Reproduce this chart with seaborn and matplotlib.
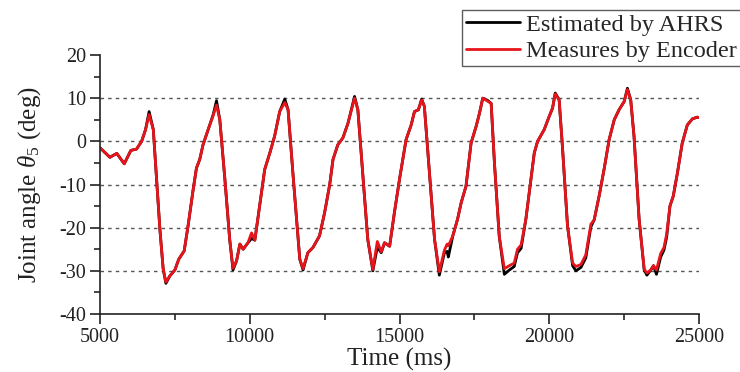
import numpy as np
import pandas as pd
import matplotlib
matplotlib.use("Agg")
import matplotlib.pyplot as plt
import seaborn as sns

time_ms = [5000, 5330, 5560, 5810, 6030, 6220, 6390, 6520, 6640, 6780,
           6890, 7000, 7110, 7200, 7330, 7500, 7630, 7810, 7940, 8110,
           8220, 8330, 8440, 8610, 8780, 8890, 9000, 9170, 9330, 9440,
           9560, 9670, 9780, 9940, 10060, 10170, 10330, 10500, 10670, 10830,
           11000, 11170, 11280, 11440, 11670, 11780, 11940, 12110, 12330, 12500,
           12670, 12780, 12940, 13110, 13280, 13500, 13610, 13780, 13940, 14110,
           14260, 14390, 14500, 14670, 14830, 15000, 15220, 15390, 15500, 15630,
           15740, 15830, 16000, 16170, 16330, 16500, 16590, 16630, 16780, 16940,
           17060, 17220, 17390, 17560, 17670, 17780, 17940, 18060, 18170, 18330,
           18500, 18670, 18830, 18940, 19060, 19220, 19390, 19500, 19610, 19830,
           20000, 20110, 20200, 20330, 20440, 20610, 20780, 20890, 21060, 21220,
           21390, 21500, 21670, 21830, 22000, 22170, 22330, 22500, 22610, 22720,
           22830, 23000, 23170, 23260, 23390, 23480, 23580, 23720, 23830, 23920,
           24030, 24140, 24280, 24440, 24610, 24780, 24940, 25000]

ahrs = [-1.5, -3.7, -2.8, -5.2, -2.1, -1.8, 0.0, 2.7, 6.9, 2.7,
        -8.8, -20.4, -29.6, -32.9, -31.2, -29.8, -27.3, -25.4, -19.6, -11.2,
        -6.2, -4.2, -0.8, 2.7, 6.2, 9.4, 5.0, -8.8, -22.7, -29.8,
        -27.7, -23.8, -25.0, -23.5, -22.5, -22.9, -15.0, -6.5, -2.7, 1.2,
        6.9, 9.8, 7.3, -7.3, -27.3, -29.8, -25.8, -24.6, -21.9, -16.5,
        -10.0, -4.2, -0.8, 0.8, 4.2, 10.4, 7.3, -8.1, -22.7, -30.0,
        -24.5, -25.8, -23.5, -24.3, -16.5, -8.8, 0.4, 3.8, 6.9, 7.3,
        9.8, 8.1, -7.3, -22.7, -31.0, -25.8, -25.5, -26.8, -21.9, -18.0,
        -14.2, -10.4, -0.4, 3.5, 6.5, 10.0, 9.5, 8.8, -5.0, -22.0,
        -30.8, -29.8, -29.0, -25.8, -24.8, -18.0, -8.8, -2.7, 0.0, 2.7,
        5.8, 7.7, 11.2, 9.6, -1.2, -19.6, -28.8, -30.0, -29.2, -27.0,
        -19.8, -18.2, -12.5, -6.5, 0.4, 5.0, 7.3, 9.2, 12.3, 9.6,
        1.2, -18.0, -29.8, -31.0, -29.8, -28.8, -30.8, -26.8, -25.2, -22.2,
        -15.0, -12.7, -7.3, -0.4, 3.8, 5.2, 5.6, 5.5]

encoder = [-1.5, -3.7, -2.8, -5.2, -2.1, -1.8, 0.0, 2.7, 6.2, 2.7,
           -8.8, -20.4, -29.6, -32.6, -31.2, -29.8, -27.3, -25.4, -19.6, -11.2,
           -6.2, -4.2, -0.8, 2.7, 6.0, 8.4, 5.0, -8.8, -22.7, -29.4,
           -27.7, -23.8, -25.0, -23.5, -21.2, -22.9, -15.0, -6.5, -2.7, 1.2,
           6.9, 9.0, 7.3, -7.3, -27.3, -29.5, -25.8, -24.6, -21.9, -16.5,
           -10.0, -4.2, -0.8, 0.8, 4.2, 10.0, 7.3, -8.1, -22.7, -29.7,
           -23.2, -25.6, -23.5, -24.3, -16.5, -8.8, 0.4, 3.8, 6.9, 7.3,
           9.6, 8.1, -7.3, -22.7, -30.2, -25.2, -23.8, -24.2, -21.9, -18.0,
           -14.2, -10.4, -0.4, 3.5, 6.5, 10.0, 9.3, 8.8, -5.0, -22.0,
           -29.5, -28.8, -28.2, -25.0, -24.0, -18.0, -8.8, -2.7, 0.0, 2.7,
           5.8, 7.7, 11.0, 9.6, -1.2, -19.6, -28.2, -29.0, -28.5, -26.3,
           -19.2, -18.2, -12.5, -6.5, 0.4, 5.0, 7.3, 9.2, 12.0, 9.6,
           1.2, -18.0, -29.6, -30.5, -29.8, -28.8, -29.8, -26.0, -24.6, -21.5,
           -15.0, -12.7, -7.3, -0.4, 3.8, 5.2, 5.6, 5.5]

series_names = ["Estimated by AHRS", "Measures by Encoder"]
series_colors = ["#000000", "#e8141c"]

x_ticks = [5000, 10000, 15000, 20000, 25000]
y_ticks = [-40, -30, -20, -10, 0, 10, 20]

df = pd.DataFrame({
    "Time": time_ms * 2,
    "Angle": ahrs + encoder,
    "Series": [series_names[0]] * len(time_ms) + [series_names[1]] * len(time_ms),
})

sns.set_style("ticks")
plt.rcParams["font.family"] = ["Liberation Serif", "DejaVu Serif"]
plt.rcParams["mathtext.fontset"] = "custom"
plt.rcParams["mathtext.rm"] = "Liberation Serif"
plt.rcParams["mathtext.it"] = "Liberation Serif:italic"
plt.rcParams["mathtext.default"] = "it"
plt.rcParams["axes.unicode_minus"] = False

fig = plt.figure(figsize=(7.4, 3.72), dpi=100)
ax = fig.add_axes([100 / 740, 1 - 314 / 372, 599 / 740, 259 / 372])

sns.lineplot(data=df, x="Time", y="Angle", hue="Series",
             palette=dict(zip(series_names, series_colors)),
             linewidth=2.0, ax=ax, legend=True, estimator=None, sort=False)

ax.set_xlim(5000, 25000)
ax.set_ylim(-40, 20)
ax.set_xticks(x_ticks)
ax.set_yticks(y_ticks)
ax.set_xticks([7500, 12500, 17500, 22500], minor=True)
ax.set_yticks([-35, -25, -15, -5, 5, 15], minor=True)
ax.tick_params(axis="both", which="major", direction="out", length=7,
               width=1.2, labelsize=14.5, colors="#222222", pad=3)
ax.tick_params(axis="both", which="minor", direction="out", length=4,
               width=1.2)
for s in ["top", "right"]:
    ax.spines[s].set_visible(False)
for s in ["left", "bottom"]:
    ax.spines[s].set_linewidth(1.2)
    ax.spines[s].set_color("#222222")

ax.yaxis.grid(True, linestyle=(0, (2.5, 3)), color="#555555", linewidth=1.0)
for gl, v in zip(ax.get_ygridlines(), y_ticks):
    if v in (20, -40):
        gl.set_visible(False)

ax.set_xlabel("Time (ms)", fontsize=18, color="#222222", labelpad=1)
ax.set_ylabel(r"Joint angle $\theta_{5}$ (deg)", fontsize=18,
              color="#222222", labelpad=12)

handles, labels = ax.get_legend_handles_labels()
ax.get_legend().remove()
leg = fig.legend(handles, labels, loc="upper left",
                 bbox_to_anchor=(462 / 740, 1 - 10 / 372),
                 fontsize=17.5, frameon=True, fancybox=False,
                 handlelength=2.25, handletextpad=0.25, borderpad=0.15,
                 labelspacing=0.18, borderaxespad=0)
leg.get_frame().set_edgecolor("#333333")
leg.get_frame().set_linewidth(1.0)
for line in leg.get_lines():
    line.set_linewidth(2.0)

fig.savefig("out.png", dpi=100)
